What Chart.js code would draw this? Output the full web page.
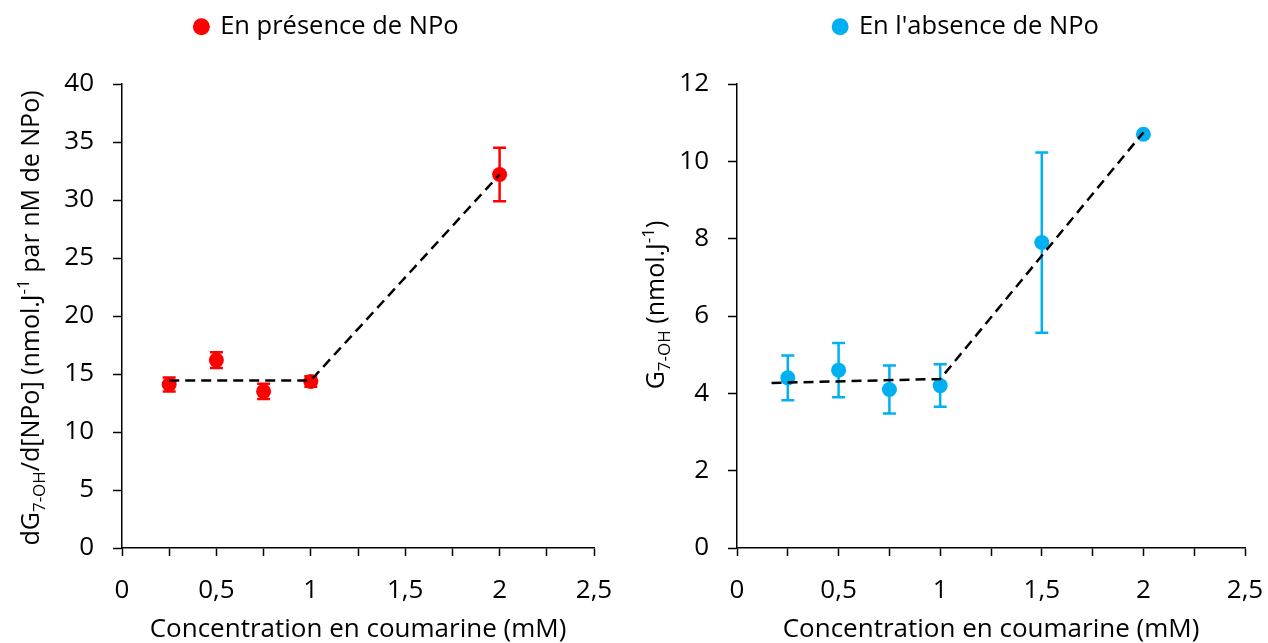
<!DOCTYPE html>
<html><head><meta charset="utf-8">
<script src="https://cdn.jsdelivr.net/npm/chart.js@4.4.1/dist/chart.umd.min.js"></script>
<style>
html,body{margin:0;padding:0;background:#fff;width:1268px;height:643px;overflow:hidden}
.box{position:absolute;top:0;width:634px;height:643px}
canvas{display:block}
</style></head><body>
<div class="box" style="left:0"><canvas id="c1" width="634" height="643"></canvas></div>
<div class="box" style="left:634px"><canvas id="c2" width="634" height="643"></canvas></div>
<script>
// ---- data ----
const xTickValues = [0, 0.5, 1, 1.5, 2, 2.5];
const xTitle = 'Concentration en coumarine (mM)';

const leftLabel = 'En présence de NPo';
const leftConc = [0.25, 0.5, 0.75, 1, 2];
const leftValues = [14.1, 16.2, 13.5, 14.35, 32.2];
const leftErrors = [0.6, 0.68, 0.65, 0.45, 2.3];
const leftFitX = [0.25, 1, 2];
const leftFitY = [14.45, 14.45, 32.2];
const leftYTicks = [0, 5, 10, 15, 20, 25, 30, 35, 40];

const rightLabel = "En l'absence de NPo";
const rightConc = [0.25, 0.5, 0.75, 1, 1.5, 2];
const rightValues = [4.4, 4.6, 4.1, 4.2, 7.9, 10.7];
const rightErrors = [0.58, 0.7, 0.62, 0.55, 2.33, 0];
const rightFitX = [0.17, 1, 2];
const rightFitY = [4.27, 4.37, 10.75];
const rightYTicks = [0, 2, 4, 6, 8, 10, 12];

const leftYTitle = [['dG','n'],['7-OH','sub'],['/d[NPo] (nmol.J','n'],['-1','sup'],[' par nM de NPo)','n']];
const rightYTitle = [['G','n'],['7-OH','sub'],[' (nmol.J','n'],['-1','sup'],[')','n']];

const FONT = "'Open Sans', sans-serif";
const FS = 26;      // ticks, axis title
const FS_LEG = 25.5; // legend
const FS_YT = 25;   // rotated y titles

// ---- plugins ----
const errorBars = {
  id: 'errorBars',
  beforeDatasetsDraw(chart) {
    const ctx = chart.ctx, xs = chart.scales.x, ys = chart.scales.y;
    chart.data.datasets.forEach(ds => {
      if (!ds.errors) return;
      ctx.save();
      ctx.strokeStyle = ds.backgroundColor;
      ctx.lineWidth = 2.5;
      ds.data.forEach((p, i) => {
        const e = ds.errors[i];
        if (!e) return;
        const px = xs.getPixelForValue(p.x);
        const t = ys.getPixelForValue(p.y + e), b = ys.getPixelForValue(p.y - e);
        ctx.beginPath();
        ctx.moveTo(px, t); ctx.lineTo(px, b);
        ctx.moveTo(px - 6.5, t); ctx.lineTo(px + 6.5, t);
        ctx.moveTo(px - 6.5, b); ctx.lineTo(px + 6.5, b);
        ctx.stroke();
      });
      ctx.restore();
    });
  }
};

const richTitle = {
  id: 'richTitle',
  afterDraw(chart, args, o) {
    if (!o || !o.segments) return;
    const ctx = chart.ctx;
    const small = Math.round(o.size * 0.66);
    ctx.save();
    ctx.translate(o.x, o.y);
    ctx.rotate(-Math.PI / 2);
    ctx.fillStyle = '#000';
    ctx.textBaseline = 'alphabetic';
    ctx.textAlign = 'left';
    const fonts = o.segments.map(s => (s[1] === 'n' ? o.size : small) + 'px ' + FONT);
    let total = 0;
    o.segments.forEach((s, i) => { ctx.font = fonts[i]; total += ctx.measureText(s[0]).width; });
    let x = -total / 2;
    const base = o.size * 0.36;
    o.segments.forEach((s, i) => {
      ctx.font = fonts[i];
      const dy = s[1] === 'sub' ? o.size * 0.22 : s[1] === 'sup' ? -o.size * 0.4 : 0;
      ctx.fillText(s[0], x, base + dy);
      x += ctx.measureText(s[0]).width;
    });
    ctx.restore();
  }
};

const legendPlace = {
  id: 'legendPlace',
  beforeInit(chart) {
    const lg = chart.legend;
    const fit = lg.fit;
    lg.fit = function () { fit.call(this); this.height = 84; };
  },
  afterLayout(chart, args, o) {
    const lg = chart.legend;
    if (lg && o && o.shift) { lg.left += o.shift; lg.right += o.shift; }
  }
};

function fmt(v) {
  if (Math.abs(v * 2 - Math.round(v * 2)) > 1e-9) return '';
  return String(v).replace('.', ',');
}

function makeChart(id, cfg) {
  const pts = cfg.conc.map((x, i) => ({ x, y: cfg.values[i] }));
  const fit = cfg.fitX.map((x, i) => ({ x, y: cfg.fitY[i] }));
  return new Chart(document.getElementById(id), {
    type: 'scatter',
    data: {
      datasets: [
        { label: 'fit', data: fit, showLine: true, borderColor: '#000', backgroundColor: '#000',
          borderWidth: 2.5, borderDash: [10, 6], pointRadius: 0, pointHoverRadius: 0, fill: false },
        { label: cfg.label, data: pts, errors: cfg.errors, backgroundColor: cfg.color, borderColor: cfg.color,
          borderWidth: 0, pointRadius: 7.5, pointHoverRadius: 7.5, pointStyle: 'circle' }
      ]
    },
    options: {
      responsive: false,
      animation: false,
      layout: { padding: { left: cfg.padL, right: cfg.padR, top: 0, bottom: 0 } },
      plugins: {
        legend: {
          display: true, position: 'top',
          labels: {
            filter: item => item.datasetIndex === 1,
            usePointStyle: true, boxWidth: 12, boxHeight: 12, padding: 14,
            color: '#000', font: { family: FONT, size: FS_LEG }
          }
        },
        tooltip: { enabled: false },
        legendPlace: { shift: cfg.legendShift },
        richTitle: { segments: cfg.yTitle, x: cfg.titleX, y: cfg.titleY, size: FS_YT }
      },
      scales: {
        x: {
          type: 'linear', min: 0, max: 2.5,
          afterFit: s => { s.height = 95; s.paddingLeft = 0; s.paddingRight = 0; },
          border: { display: true, color: '#000', width: 1.5 },
          grid: { display: true, drawOnChartArea: false, drawTicks: true, tickLength: 8, tickColor: '#000', tickWidth: 1.5 },
          ticks: { stepSize: 0.25, autoSkip: false, maxRotation: 0, padding: 19, color: '#000',
                   font: { family: FONT, size: FS }, callback: v => fmt(v) },
          title: { display: true, text: xTitle, color: '#000', font: { family: FONT, size: FS, lineHeight: 1.0 }, padding: { top: 0, bottom: 0 } }
        },
        y: {
          type: 'linear', min: cfg.yTicks[0], max: cfg.yTicks[cfg.yTicks.length - 1],
          afterFit: s => { s.width = cfg.yW; },
          border: { display: true, color: '#000', width: 1.5 },
          grid: { display: true, drawOnChartArea: false, drawTicks: true, tickLength: 9, tickColor: '#000', tickWidth: 1.5 },
          ticks: { stepSize: cfg.yTicks[1] - cfg.yTicks[0], padding: 19, color: '#000', font: { family: FONT, size: FS } }
        }
      }
    },
    plugins: [errorBars, richTitle, legendPlace]
  });
}

makeChart('c1', { label: leftLabel, conc: leftConc, values: leftValues, errors: leftErrors,
  fitX: leftFitX, fitY: leftFitY, color: '#FF0000', yTicks: leftYTicks, yTitle: leftYTitle,
  padL: 10, padR: 40, yW: 112, legendShift: 25, titleX: 30, titleY: 318 });
makeChart('c2', { label: rightLabel, conc: rightConc, values: rightValues, errors: rightErrors,
  fitX: rightFitX, fitY: rightFitY, color: '#00B0F0', yTicks: rightYTicks, yTitle: rightYTitle,
  padL: 10, padR: 23, yW: 93, legendShift: 22, titleX: 21, titleY: 305 });
</script>
</body></html>
